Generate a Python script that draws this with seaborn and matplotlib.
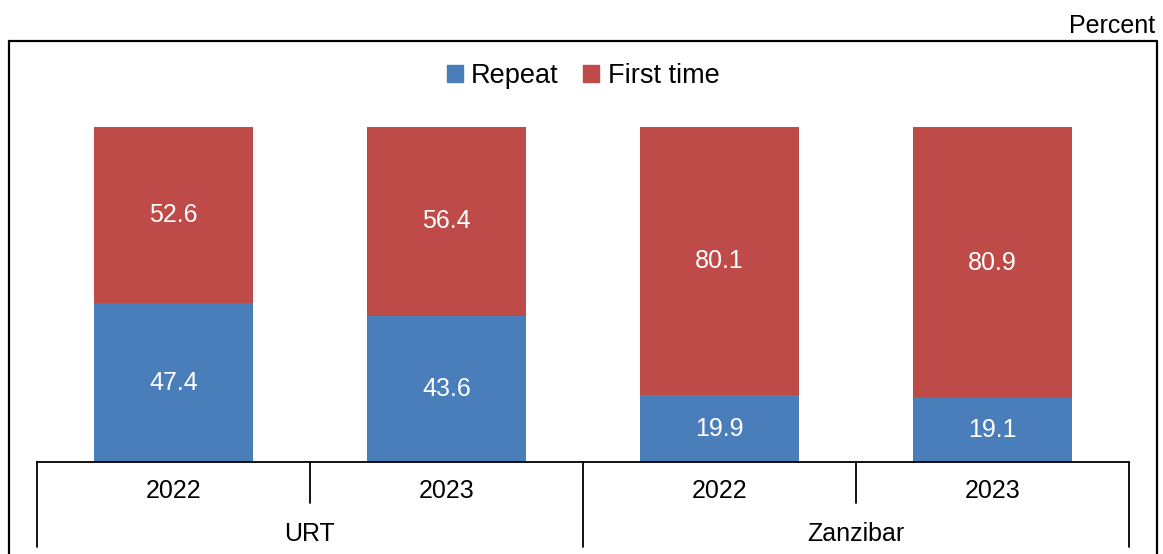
import matplotlib
matplotlib.use("Agg")
import matplotlib.pyplot as plt
import seaborn as sns
import pandas as pd
from matplotlib.lines import Line2D
from matplotlib.patches import Patch

groups = ["URT", "URT", "Zanzibar", "Zanzibar"]
years = ["2022", "2023", "2022", "2023"]
repeat = [47.4, 43.6, 19.9, 19.1]
first_time = [52.6, 56.4, 80.1, 80.9]

BLUE = "#4A7EBB"
RED = "#BE4B48"

sns.set_theme(style="white")
plt.rcParams['font.family'] = ['Liberation Sans', 'DejaVu Sans']
plt.rcParams['text.color'] = 'black'

cats = [f"{g} {y}" for g, y in zip(groups, years)]
df = pd.DataFrame({"cat": cats, "repeat": repeat, "first": first_time})
df["total"] = df["repeat"] + df["first"]

fig = plt.figure(figsize=(11.63, 5.54), dpi=100)
W, H = 1163, 554
ax = fig.add_axes([37 / W, (H - 462) / H, (1129 - 37) / W, (462 - 41) / H])

sns.barplot(data=df, x="cat", y="total", color=RED, width=0.58, ax=ax,
            saturation=1, order=cats, linewidth=0)
sns.barplot(data=df, x="cat", y="repeat", color=BLUE, width=0.58, ax=ax,
            saturation=1, order=cats, linewidth=0)

ax.set_xlim(-0.5, 3.5)
ax.set_ylim(0, (462 - 41) / 3.35)
ax.set_xlabel("")
ax.set_ylabel("")
ax.set_yticks([])
ax.set_xticks([])
for s in ["top", "left", "right"]:
    ax.spines[s].set_visible(False)
ax.spines["bottom"].set_color("black")
ax.spines["bottom"].set_linewidth(1.3)

fs = 18
for i in range(len(cats)):
    ax.text(i, repeat[i] / 2, f"{repeat[i]:.1f}", ha="center", va="center",
            color="white", fontsize=fs)
    ax.text(i, repeat[i] + first_time[i] / 2, f"{first_time[i]:.1f}",
            ha="center", va="center", color="white", fontsize=fs)

trans = ax.get_xaxis_transform()
short = -41 / 421
long_ = -85 / 421
for xb, L in [(-0.5, long_), (0.5, short), (1.5, long_), (2.5, short), (3.5, long_)]:
    ax.plot([xb, xb], [0, L], color="black", lw=1.3, transform=trans, clip_on=False)
for i, y in enumerate(years):
    ax.text(i, -29 / 421, y, ha="center", va="center", fontsize=fs,
            transform=trans, color="black")
ax.text(0.5, -72 / 421, "URT", ha="center", va="center", fontsize=fs,
        transform=trans, color="black")
ax.text(2.5, -72 / 421, "Zanzibar", ha="center", va="center", fontsize=fs,
        transform=trans, color="black")

handles = [Patch(color=BLUE, label="Repeat"), Patch(color=RED, label="First time")]
leg = ax.legend(handles=handles, loc="center", bbox_to_anchor=(0.5, (462 - 76) / 421),
                ncol=2, frameon=False, fontsize=19.5, handlelength=0.6, handleheight=0.6,
                handletextpad=0.3, columnspacing=0.9)
for t in leg.get_texts():
    t.set_color("black")

# outer frame
fx0, fx1 = 9 / W, 1157 / W
fy = (H - 41) / H
for xs, ys in [([fx0, fx1], [fy, fy]), ([fx0, fx0], [fy, 0]), ([fx1, fx1], [fy, 0])]:
    fig.add_artist(Line2D(xs, ys, color="black", lw=1.6, transform=fig.transFigure))

fig.text(1155 / W, (H - 26) / H, "Percent", ha="right", va="center", fontsize=fs,
         color="black")

fig.savefig("out.png", dpi=100)
